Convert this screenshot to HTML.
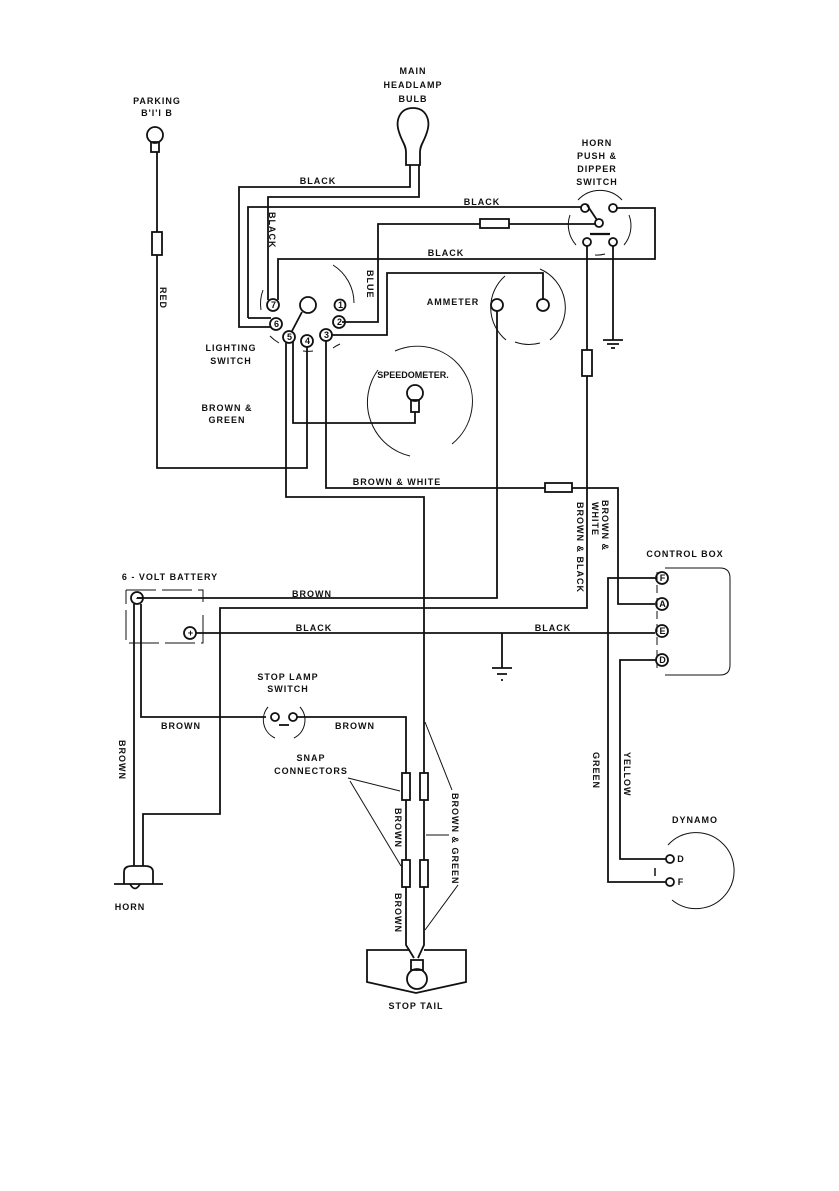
<!DOCTYPE html>
<html><head><meta charset="utf-8"><style>
html,body{margin:0;padding:0;background:#fff;}
svg{display:block}
text{font-family:"Liberation Sans",sans-serif;font-weight:bold;font-size:9px;fill:#111;letter-spacing:1px}
</style></head><body>
<svg width="839" height="1191" viewBox="0 0 839 1191" xmlns="http://www.w3.org/2000/svg">
<g fill="none" stroke="#111" stroke-width="1.8">
<circle cx="155" cy="135" r="8"/>
<rect x="151" y="142" width="8" height="10"/>
<path d="M157 152 V232 M157 255 V468 H307 V346"/>
<rect x="152" y="232" width="10" height="23"/>
<path d="M413 108 C400 108 395 120 399 132 C402 142 406 145 406 152 V165 H420 V152 C420 145 424 142 427 132 C431 120 426 108 413 108 Z"/>
<path d="M410 165 V187 H239 V327 H271"/>
<path d="M419 165 V197 H268 V300"/>
<path d="M248 318 V207 H582"/>
<path d="M271 318 H248"/>
<path d="M616 208 H655 V259 H278 V300"/>
<path d="M342 322 H378 V224 H480 M509 224 H596"/>
<rect x="480" y="219" width="29" height="9"/>
<circle cx="585" cy="208" r="4"/><circle cx="613" cy="208" r="4"/><circle cx="599" cy="223" r="4"/>
<circle cx="587" cy="242" r="4"/><circle cx="613" cy="242" r="4"/>
<path d="M587 205 L597 220"/><path d="M590 234 H610" stroke-width="2.2"/>
<path d="M578 200 A30 30 0 0 1 622 200" stroke-width="1"/>
<path d="M629 215 A30 30 0 0 1 624 245" stroke-width="1"/>
<path d="M570 215 A30 30 0 0 0 576 245" stroke-width="1"/>
<path d="M595 255 A30 30 0 0 0 605 254" stroke-width="1"/>
<path d="M613 246 V340 M603 340 H623 M607 344 H619 M611 348 H615"/>
<path d="M587 246 V350 M587 376 V608 H220 V814 H143 V866"/>
<rect x="582" y="350" width="10" height="26"/>
<circle cx="273" cy="305" r="6"/><circle cx="308" cy="305" r="8"/><circle cx="340" cy="305" r="5.5"/>
<circle cx="276" cy="324" r="6"/><circle cx="339" cy="322" r="6"/>
<circle cx="289" cy="337" r="6"/><circle cx="307" cy="341" r="6"/><circle cx="326" cy="335" r="6"/>
<path d="M292 331 L302 312"/>
<path d="M333 265 A45 45 0 0 1 354 303" stroke-width="1"/>
<path d="M263 290 A40 40 0 0 0 261 310" stroke-width="1"/>
<path d="M270 336 A40 40 0 0 0 279 343" stroke-width="1"/>
<path d="M340 344 A40 40 0 0 0 333 348" stroke-width="1"/>
<path d="M313 351 A40 40 0 0 1 303 351" stroke-width="1"/>
<path d="M332 335 H387 V273 H543 V300"/>
<circle cx="497" cy="305" r="6"/><circle cx="543" cy="305" r="6"/>
<path d="M505 276 A42 42 0 0 0 506 340" stroke-width="1"/>
<path d="M540 269 A42 42 0 0 1 550 340" stroke-width="1"/>
<path d="M515 342 A42 42 0 0 0 540 343" stroke-width="1"/>
<path d="M497 311 V598 H137"/>
<path d="M378 370 A55 55 0 0 0 410 456" stroke-width="1"/>
<path d="M395 351 A55 55 0 0 1 452 444" stroke-width="1"/>
<circle cx="415" cy="393" r="8"/><rect x="411" y="400" width="8" height="12"/>
<path d="M415 412 V423 H293 V342"/>
<path d="M286 343 V497 H424 V945 L418 958"/>
<path d="M326 341 V488 H545 M572 488 H618 V604 H655"/>
<rect x="545" y="483" width="27" height="9"/>
<path d="M126 590 H203 V602 M203 615 V643 H126 V590" stroke-width="1" stroke-dasharray="30 6"/>
<circle cx="137" cy="598" r="6"/><circle cx="190" cy="633" r="6"/>
<path d="M143 598 H137"/>
<path d="M196 633 H655"/>
<path d="M502 633 V668 M492 668 H512 M497 674 H507 M501 680 H503"/>
<path d="M134 604 V866 M141 604 V717 H266"/>
<path d="M124 884 V872 Q124 866 132 866 H145 Q153 866 153 872 V884"/>
<path d="M114 884 H163"/><path d="M130 884 Q135 893 140 884"/>
<circle cx="275" cy="717" r="4"/><circle cx="293" cy="717" r="4"/>
<path d="M279 725 H289"/>
<path d="M268 707 A20 20 0 0 0 275 738 M300 707 A20 20 0 0 1 294 738" stroke-width="1"/>
<path d="M297 717 H406 V945 L414 958"/>
<rect x="402" y="773" width="8" height="27" fill="#fff"/><rect x="420" y="773" width="8" height="27" fill="#fff"/>
<rect x="402" y="860" width="8" height="27" fill="#fff"/><rect x="420" y="860" width="8" height="27" fill="#fff"/>
<path d="M348 778 L400 791 M350 781 L401 866 M452 790 L425 722 M449 835 H426 M458 885 L425 930" stroke-width="1"/>
<path d="M410 950 H367 V982 L416 993 L466 982 V950 H424"/>
<rect x="411" y="960" width="12" height="10"/>
<circle cx="417" cy="979" r="10"/>
<circle cx="662" cy="578" r="6"/><circle cx="662" cy="604" r="6"/><circle cx="662" cy="631" r="6"/><circle cx="662" cy="660" r="6"/>
<path d="M657 572 V668" stroke-width="1" stroke-dasharray="8 5"/>
<path d="M665 568 H720 Q730 568 730 578 V665 Q730 675 720 675 H665" stroke-width="1"/>
<path d="M656 578 H608 V882 H666 M656 660 H620 V859 H666"/>
<circle cx="670" cy="859" r="4"/><circle cx="670" cy="882" r="4"/>
<path d="M668 845 A38 38 0 1 1 672 900" stroke-width="1"/>
<path d="M655 868 V876" stroke-width="1.5"/>
</g>
<g text-anchor="middle">
<text x="157" y="104">PARKING</text><text x="157" y="116">B'l'l B</text>
<text x="413" y="74">MAIN</text><text x="413" y="88">HEADLAMP</text><text x="413" y="102">BULB</text>
<text x="597" y="146">HORN</text><text x="597" y="159">PUSH &amp;</text><text x="597" y="172">DIPPER</text><text x="597" y="185">SWITCH</text>
<text x="318" y="184">BLACK</text><text x="482" y="205">BLACK</text><text x="446" y="256">BLACK</text>
<text x="453" y="305">AMMETER</text>
<text x="231" y="351">LIGHTING</text><text x="231" y="364">SWITCH</text>
<text x="227" y="411">BROWN &amp;</text><text x="227" y="423">GREEN</text>
<text x="413" y="378" style="letter-spacing:0">SPEEDOMETER.</text>
<text x="397" y="485">BROWN &amp; WHITE</text>
<text x="685" y="557">CONTROL BOX</text>
<text x="170" y="580">6 - VOLT BATTERY</text>
<text x="312" y="597">BROWN</text><text x="314" y="631">BLACK</text><text x="553" y="631">BLACK</text>
<text x="288" y="680">STOP LAMP</text><text x="288" y="692">SWITCH</text>
<text x="181" y="729">BROWN</text><text x="355" y="729">BROWN</text>
<text x="311" y="761">SNAP</text><text x="311" y="774">CONNECTORS</text>
<text x="695" y="823">DYNAMO</text>
<text x="130" y="910">HORN</text>
<text x="416" y="1009">STOP TAIL</text>
<text x="274" y="308" font-size="7">7</text><text x="341" y="308" font-size="7">1</text>
<text x="277" y="327" font-size="7">6</text><text x="340" y="325" font-size="7">2</text>
<text x="290" y="340" font-size="7">5</text><text x="308" y="344" font-size="7">4</text><text x="327" y="338" font-size="7">3</text>
<text x="663" y="581" font-size="7">F</text><text x="663" y="607" font-size="7">A</text><text x="663" y="634" font-size="7">E</text><text x="663" y="663" font-size="7">D</text>
<text x="191" y="636" font-size="7">+</text><text x="138" y="601" font-size="8">-</text>
<text x="681" y="862" font-size="8">D</text><text x="681" y="885" font-size="8">F</text>
</g>
<text transform="translate(160,287) rotate(90)">RED</text>
<text transform="translate(269,212) rotate(90)">BLACK</text>
<text transform="translate(367,270) rotate(90)">BLUE</text>
<text transform="translate(602,500) rotate(90)">BROWN &amp;</text>
<text transform="translate(592,502) rotate(90)">WHITE</text>
<text transform="translate(577,502) rotate(90)">BROWN &amp; BLACK</text>
<text transform="translate(119,740) rotate(90)">BROWN</text>
<text transform="translate(395,808) rotate(90)">BROWN</text>
<text transform="translate(395,893) rotate(90)">BROWN</text>
<text transform="translate(452,793) rotate(90)">BROWN &amp; GREEN</text>
<text transform="translate(593,752) rotate(90)">GREEN</text>
<text transform="translate(624,752) rotate(90)">YELLOW</text>
</svg>
</body></html>
